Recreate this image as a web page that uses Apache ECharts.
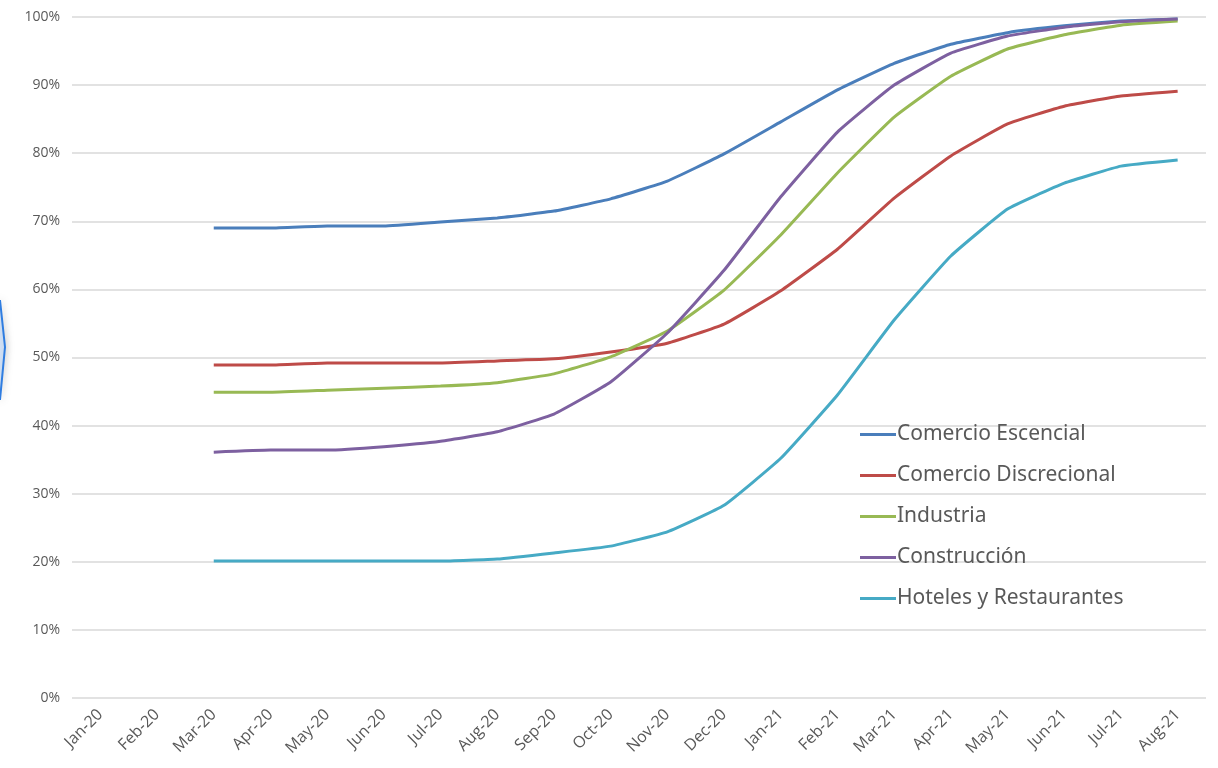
<!DOCTYPE html>
<html>
<head>
<meta charset="utf-8">
<script src="https://cdn.jsdelivr.net/npm/echarts@6/dist/echarts.min.js"></script>
<style>
  html, body { margin: 0; padding: 0; background: #fff; }
  #chart { width: 1218px; height: 768px; }
</style>
</head>
<body>
<div id="chart"></div>
<script>
const months = ['Jan-20', 'Feb-20', 'Mar-20', 'Apr-20', 'May-20', 'Jun-20', 'Jul-20', 'Aug-20', 'Sep-20', 'Oct-20',
  'Nov-20', 'Dec-20', 'Jan-21', 'Feb-21', 'Mar-21', 'Apr-21', 'May-21', 'Jun-21', 'Jul-21', 'Aug-21'];

// porcentajes por sector (Jan-20 y Feb-20 sin dato)
const comercioEscencial = [null, null, 69.0, 69.0, 69.3, 69.3, 69.9, 70.5, 71.5, 73.3, 75.9, 79.9, 84.6, 89.3, 93.2, 96.0, 97.7, 98.7, 99.4, 99.7];
const comercioDiscrecional = [null, null, 48.9, 48.9, 49.2, 49.2, 49.2, 49.5, 49.8, 50.8, 52.1, 54.9, 59.8, 65.9, 73.4, 79.6, 84.3, 86.9, 88.4, 89.1];
const industria = [null, null, 44.9, 44.9, 45.2, 45.5, 45.8, 46.3, 47.6, 50.1, 53.9, 59.9, 68.0, 77.1, 85.3, 91.3, 95.3, 97.4, 98.8, 99.4];
const construccion = [null, null, 36.1, 36.4, 36.4, 36.9, 37.7, 39.1, 41.7, 46.4, 53.6, 62.8, 73.6, 83.1, 90.0, 94.7, 97.2, 98.5, 99.3, 99.7];
const hoteles = [null, null, 20.1, 20.1, 20.1, 20.1, 20.1, 20.4, 21.3, 22.3, 24.4, 28.3, 35.2, 44.5, 55.5, 64.9, 71.8, 75.6, 78.1, 79.0];

const seriesNames = ['Comercio Escencial', 'Comercio Discrecional', 'Industria', 'Construcción', 'Hoteles y Restaurantes'];
const seriesData = [comercioEscencial, comercioDiscrecional, industria, construccion, hoteles];
const colors = ['#4a7ebb', '#be4b48', '#98b954', '#7d60a0', '#46aac5'];

const chart = echarts.init(document.getElementById('chart'));

chart.setOption({
  animation: false,
  color: colors,
  grid: { left: 72, right: 12, top: 17, bottom: 70 },
  legend: {
    orient: 'vertical',
    left: 855,
    top: 417,
    itemGap: 16,
    itemWidth: 36,
    itemHeight: 3,
    icon: 'rect',
    textStyle: { fontFamily: 'Noto Sans', fontSize: 21, color: '#595959', padding: [0, 0, 0, -4], lineHeight: 25 },
    data: seriesNames
  },
  xAxis: {
    type: 'category',
    data: months,
    boundaryGap: true,
    axisLine: { show: false },
    axisTick: { show: false },
    axisLabel: {
      rotate: 45,
      interval: 0,
      margin: 14,
      fontFamily: 'Open Sans',
      fontSize: 16,
      color: '#595959'
    }
  },
  yAxis: {
    type: 'value',
    min: 0,
    max: 100,
    interval: 10,
    axisLabel: {
      formatter: '{value}%',
      fontFamily: 'Open Sans',
      fontSize: 14,
      color: '#595959',
      margin: 12
    },
    splitLine: { lineStyle: { color: '#d9d9d9', width: 1.5 } }
  },
  series: seriesData.map((d, i) => ({
    name: seriesNames[i],
    type: 'line',
    data: d,
    smooth: 0.12,
    showSymbol: false,
    lineStyle: { width: 3, color: colors[i] },
    itemStyle: { color: colors[i] }
  })),
  graphic: [{
    type: 'polyline',
    shape: { points: [[0, 300], [5, 347], [0, 400]] },
    style: { stroke: '#2f7de1', lineWidth: 2, fill: '#d6e6fb', shadowBlur: 8, shadowColor: 'rgba(0,0,0,0.25)' }
  }]
});
</script>
</body>
</html>
